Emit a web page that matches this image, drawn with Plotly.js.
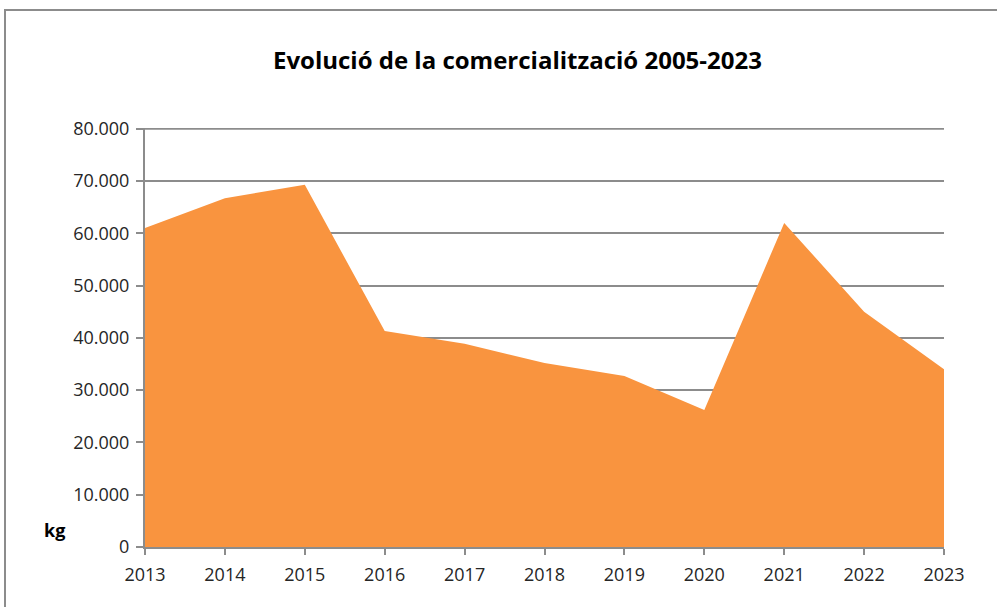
<!DOCTYPE html>
<html>
<head>
<meta charset="utf-8">
<script src="https://cdn.plot.ly/plotly-3.0.1.min.js"></script>
<style>
  html, body { margin: 0; padding: 0; overflow: hidden; background: #fff; }
  #thePlot { position: absolute; left: 0; top: 0; width: 997px; height: 607px; }
  #frame { position: absolute; left: 4px; top: 9px; width: 1100px; height: 700px;
           border: 2px solid #8c8c8c; pointer-events: none; }
</style>
</head>
<body>
<div id="thePlot"></div>
<div id="frame"></div>
<script>
// Data
const years = [2013, 2014, 2015, 2016, 2017, 2018, 2019, 2020, 2021, 2022, 2023];
const kg = [61000, 66700, 69300, 41300, 38900, 35200, 32700, 26200, 62000, 45000, 34000];
const yTicks = [0, 10000, 20000, 30000, 40000, 50000, 60000, 70000, 80000];
const yMax = 80000;

const data = [{
    x: years,
    y: kg,
    type: "scatter",
    mode: "lines",
    fill: "tozeroy",
    fillcolor: "#f9943f",
    line: {color: "#f9943f", width: 0},
    hoverinfo: "x+y"
}];

const layout = {
    width: 997,
    height: 607,
    margin: {l: 145, r: 53, t: 128, b: 60},
    paper_bgcolor: "#fff",
    plot_bgcolor: "#fff",
    separators: ",.",
    showlegend: false,
    font: {family: "Open Sans, Noto Sans, sans-serif", size: 18, color: "#262626"},
    title: {
        text: "<b>Evolució de la comercialització 2005-2023</b>",
        x: 0.519, xanchor: "center",
        y: 0.9, yanchor: "middle",
        font: {family: "Open Sans, sans-serif", size: 24, color: "#000"}
    },
    xaxis: {
        range: [2013, 2023],
        tickvals: years,
        ticktext: years.map(String),
        showgrid: false,
        zeroline: false,
        showline: true,
        linecolor: "#8c8c8c",
        linewidth: 2,
        ticks: "outside",
        ticklen: 6,
        tickwidth: 2,
        tickcolor: "#8c8c8c",
        ticklabelstandoff: 4,
        tickfont: {size: 18, color: "#262626"}
    },
    yaxis: {
        range: [0, 80150],
        tickvals: yTicks,
        tickformat: ",d",
        showgrid: true,
        gridcolor: "#8c8c8c",
        gridwidth: 2,
        zeroline: false,
        showline: true,
        linecolor: "#8c8c8c",
        linewidth: 2,
        ticks: "outside",
        ticklen: 7,
        tickwidth: 2,
        tickcolor: "#8c8c8c",
        ticklabelstandoff: 3,
        tickfont: {size: 18, color: "#262626"}
    },
    // top gridline (Plotly drops the one at the range edge)
    shapes: [{
        type: "line",
        xref: "paper", yref: "y",
        x0: 0, x1: 1, y0: yMax, y1: yMax,
        line: {color: "#8c8c8c", width: 2},
        layer: "below"
    }],
    annotations: [{
        text: "<b>kg</b>",
        xref: "paper", yref: "paper",
        x: -0.113, y: 0.04,
        xanchor: "center", yanchor: "middle",
        showarrow: false,
        font: {size: 18, color: "#000"}
    }]
};

Plotly.newPlot("thePlot", data, layout, {displayModeBar: false, staticPlot: true});
</script>
</body>
</html>
